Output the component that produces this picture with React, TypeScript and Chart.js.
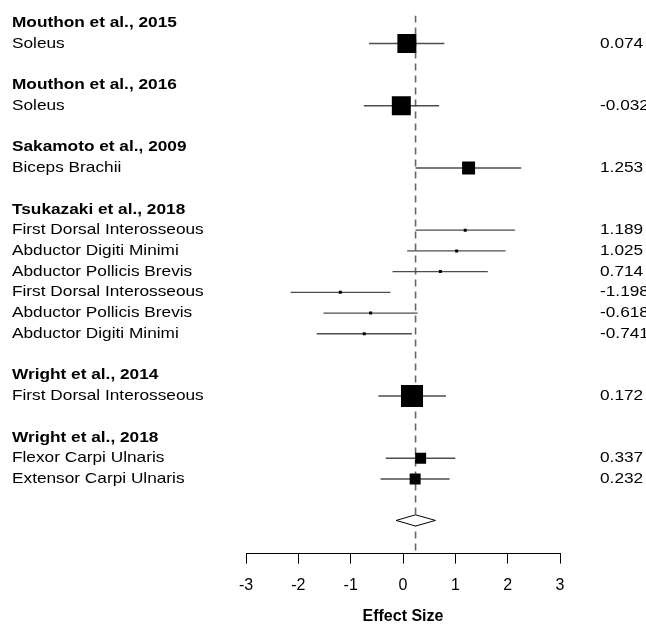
import React, { useEffect, useRef } from "react";
import { Chart, registerables } from "chart.js";

Chart.register(...registerables);

const studyNames = [
  "Mouthon et al., 2015",
  "Mouthon et al., 2016",
  "Sakamoto et al., 2009",
  "Tsukazaki et al., 2018",
  "Wright et al., 2014",
  "Wright et al., 2018",
];
const studyIndex = [0, 1, 2, 3, 3, 3, 3, 3, 3, 4, 5, 5];
const muscles = [
  "Soleus",
  "Soleus",
  "Biceps Brachii",
  "First Dorsal Interosseous",
  "Abductor Digiti Minimi",
  "Abductor Pollicis Brevis",
  "First Dorsal Interosseous",
  "Abductor Pollicis Brevis",
  "Abductor Digiti Minimi",
  "First Dorsal Interosseous",
  "Flexor Carpi Ulnaris",
  "Extensor Carpi Ulnaris",
];
const effects = [0.074, -0.032, 1.253, 1.189, 1.025, 0.714, -1.198, -0.618, -0.741, 0.172, 0.337, 0.232];
const ciLower = [-0.65, -0.75, 0.24, 0.24, 0.08, -0.2, -2.15, -1.52, -1.65, -0.47, -0.33, -0.43];
const ciUpper = [0.79, 0.69, 2.26, 2.14, 1.96, 1.62, -0.24, 0.28, 0.17, 0.82, 1.0, 0.89];
const weights = [21.6, 21.6, 10.1, 0.5, 0.5, 0.5, 0.5, 0.5, 0.5, 29.0, 7.2, 7.2];
const summaryEffect = 0.24;
const summaryLower = -0.13;
const summaryUpper = 0.62;
const xTicks = [-3, -2, -1, 0, 1, 2, 3];
const axisTitle = "Effect Size";

const FONT = "'Liberation Sans', Arial, Helvetica, sans-serif";
const Y_MIN = -0.35;
const Y_MAX = 25.6;
const STRETCH = 1.15;

// Build row layout
const headerRows: number[] = [];
const itemRows: number[] = [];
let rowCursor = 0;
let prevStudy = -1;
effects.forEach((_, i) => {
  if (studyIndex[i] !== prevStudy) {
    if (prevStudy !== -1) rowCursor++;
    headerRows[studyIndex[i]] = rowCursor;
    rowCursor++;
    prevStudy = studyIndex[i];
  }
  itemRows[i] = rowCursor;
  rowCursor++;
});
const summaryRow = rowCursor + 1;

const maxW = Math.max(...weights);
const squareSide = weights.map((w) => Math.max(3, 22 * Math.sqrt(w / maxW)));

const textPlugin = {
  id: "forestText",
  afterDraw(chart: any) {
    const ctx = chart.ctx;
    const y = chart.scales.y;
    ctx.save();
    ctx.fillStyle = "#000";
    ctx.textBaseline = "middle";
    ctx.textAlign = "left";
    const put = (t: string, x: number, py: number) => {
      ctx.save();
      ctx.translate(x, py);
      ctx.scale(STRETCH, 1);
      ctx.fillText(t, 0, 0);
      ctx.restore();
    };
    ctx.font = `bold 15px ${FONT}`;
    studyNames.forEach((n, s) => put(n, 12, y.getPixelForValue(headerRows[s])));
    ctx.font = `15px ${FONT}`;
    muscles.forEach((m, i) => {
      const py = y.getPixelForValue(itemRows[i]);
      put(m, 12, py);
      put(effects[i].toFixed(3), 600, py);
    });
    ctx.restore();
  },
};

export default function App() {
  const ref = useRef<HTMLCanvasElement>(null);
  useEffect(() => {
    if (!ref.current) return;
    const ciSets = effects.map((_, i) => ({
      type: "scatter" as const,
      data: [
        { x: ciLower[i], y: itemRows[i] },
        { x: ciUpper[i], y: itemRows[i] },
      ],
      showLine: true,
      borderColor: "#4d4d4d",
      borderWidth: 1.4,
      pointRadius: 0,
      order: 5,
    }));
    const h = 0.27;
    const chart = new Chart(ref.current, {
      type: "scatter",
      data: {
        datasets: [
          {
            data: effects.map((e, i) => ({ x: e, y: itemRows[i] })),
            pointStyle: "rect",
            pointRadius: squareSide.map((s) => s / Math.SQRT2),
            backgroundColor: "#000",
            borderColor: "#000",
            borderWidth: 0,
            order: 1,
          } as any,
          {
            data: [
              { x: summaryLower, y: summaryRow },
              { x: summaryEffect, y: summaryRow - h },
              { x: summaryUpper, y: summaryRow },
              { x: summaryEffect, y: summaryRow + h },
              { x: summaryLower, y: summaryRow },
            ],
            showLine: true,
            fill: "shape",
            backgroundColor: "#fff",
            borderColor: "#000",
            borderWidth: 1,
            pointRadius: 0,
            tension: 0,
            order: 2,
          } as any,
          ...ciSets,
          {
            data: [
              { x: summaryEffect, y: Y_MIN },
              { x: summaryEffect, y: Y_MAX },
            ],
            showLine: true,
            borderColor: "#666",
            borderWidth: 1.6,
            borderDash: [7, 5],
            pointRadius: 0,
            order: 10,
          } as any,
        ],
      },
      options: {
        animation: false,
        responsive: true,
        maintainAspectRatio: false,
        layout: { padding: { left: 246, right: 86, top: 12, bottom: 0 } },
        plugins: { legend: { display: false }, tooltip: { enabled: false } },
        scales: {
          x: {
            type: "linear",
            min: -3,
            max: 3,
            position: "bottom",
            afterBuildTicks: (s: any) => {
              s.ticks = xTicks.map((v) => ({ value: v }));
            },
            grid: { drawOnChartArea: false, drawTicks: true, tickLength: 10, color: "#000", lineWidth: 1 },
            border: { display: true, color: "#000", width: 1 },
            ticks: { font: { family: FONT, size: 16 }, color: "#000", padding: 12, maxRotation: 0, autoSkip: false },
            title: {
              display: true,
              text: axisTitle,
              color: "#000",
              font: { family: FONT, size: 16, weight: "bold" },
              padding: { top: 0, bottom: 0 },
            },
          },
          y: { type: "linear", min: Y_MIN, max: Y_MAX, reverse: true, display: false },
        },
      } as any,
      plugins: [textPlugin],
    });
    return () => chart.destroy();
  }, []);
  return (
    <div style={{ position: "fixed", left: 0, top: 0, width: 646, height: 626, background: "#fff" }}>
      <canvas ref={ref} />
    </div>
  );
}
